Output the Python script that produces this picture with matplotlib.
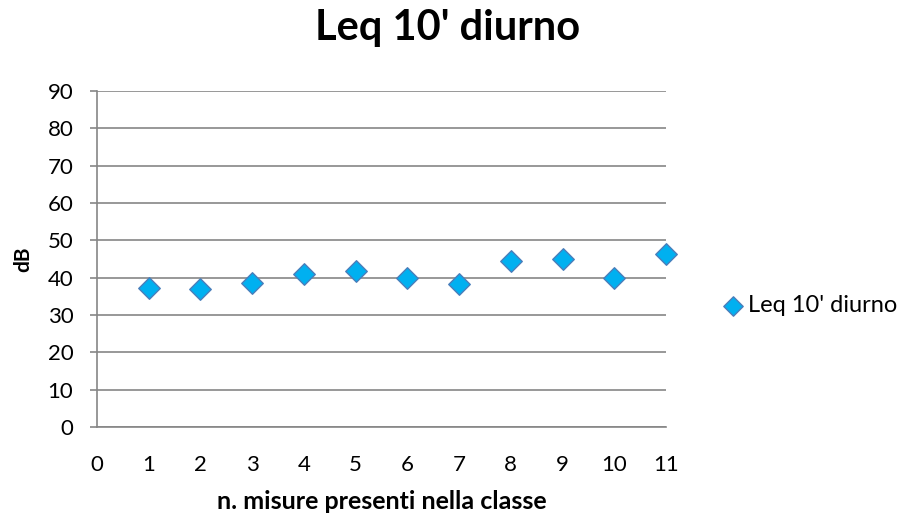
import matplotlib.pyplot as plt

# values
n_misure = [1, 2, 3, 4, 5, 6, 7, 8, 9, 10, 11]
leq_diurno = [37.1, 37.0, 38.5, 41.0, 41.8, 40.0, 38.2, 44.5, 45.0, 40.0, 46.4]
y_ticks = [0, 10, 20, 30, 40, 50, 60, 70, 80, 90]
x_ticks = [0, 1, 2, 3, 4, 5, 6, 7, 8, 9, 10, 11]

plt.rcParams['font.family'] = ['Lato', 'DejaVu Sans']

fig = plt.figure(figsize=(9.06, 5.22), dpi=100)
ax = fig.add_axes([0.1071, 0.182, 0.628, 0.644])

ax.scatter(n_misure, leq_diurno, marker='D', s=120, color='#00B0F0',
           edgecolors='#4A7EBB', linewidths=1.0, zorder=3, label="Leq 10' diurno",
           clip_on=False)

ax.set_xlim(0, 11)
ax.set_ylim(0, 90)
ax.set_xticks(x_ticks)
ax.set_yticks(y_ticks)
ax.grid(True, axis='y', color='#868686', linewidth=1.2)
ax.set_axisbelow(True)

for side in ['top', 'right']:
    ax.spines[side].set_visible(False)
for side in ['left', 'bottom']:
    ax.spines[side].set_color('#868686')
    ax.spines[side].set_linewidth(1.2)
ax.tick_params(axis='y', length=5, width=1.2, color='#868686', labelsize=16, pad=12)
ax.tick_params(axis='x', length=0, labelsize=16, pad=20)

ax.set_xlabel('n. misure presenti nella classe', fontsize=18, fontweight='bold', va='baseline')
ax.xaxis.set_label_coords(0.5, -0.244)
ax.set_ylabel('dB', fontsize=15, fontweight='bold')
ax.yaxis.set_label_coords(-0.112, 0.5)

fig.text(0.494, 1 - 40 / 522, "Leq 10' diurno", fontsize=30, fontweight='bold',
         ha='center', va='baseline')

fig.legend(loc='center left', bbox_to_anchor=(724 / 906, 1 - 306 / 522), frameon=False,
           fontsize=17, handlelength=0.8, handletextpad=0.2, borderpad=0,
           borderaxespad=0, markerscale=0.9, scatterpoints=1)

fig.savefig('out.png', dpi=100)
